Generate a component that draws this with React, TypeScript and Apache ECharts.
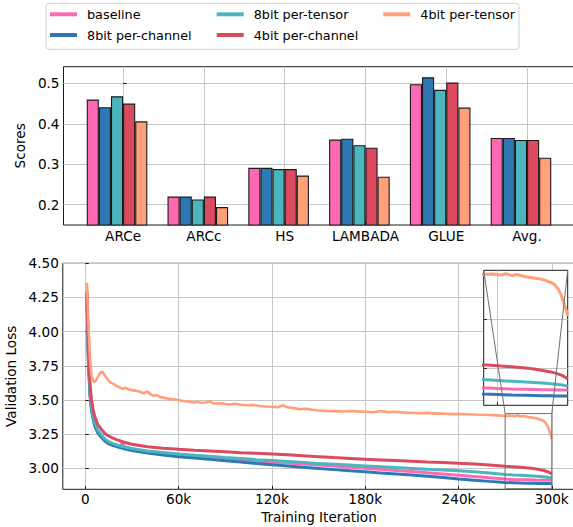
import React, { useEffect, useRef } from 'react';
import * as echarts from 'echarts';

// ---------- data ----------
const seriesNames = ['baseline', '8bit per-channel', '8bit per-tensor', '4bit per-channel', '4bit per-tensor'];
const seriesColors = ['#ff69b4', '#2e79b5', '#4bb6bd', '#db4a5f', '#ffa07a'];

const benchmarks = ['ARCe', 'ARCc', 'HS', 'LAMBADA', 'GLUE', 'Avg.'];
const scoresBaseline = [0.460, 0.220, 0.291, 0.361, 0.498, 0.365];
const scores8bitChannel = [0.441, 0.220, 0.291, 0.363, 0.515, 0.365];
const scores8bitTensor = [0.468, 0.213, 0.288, 0.347, 0.484, 0.360];
const scores4bitChannel = [0.450, 0.220, 0.288, 0.341, 0.502, 0.360];
const scores4bitTensor = [0.406, 0.194, 0.272, 0.269, 0.440, 0.316];
const scoreTicks = [0.2, 0.3, 0.4, 0.5];

const iterTicks = [0, 60000, 120000, 180000, 240000, 300000];
const lossTicks = [3.0, 3.25, 3.5, 3.75, 4.0, 4.25, 4.5];
const insetIterTicks = [275000];
const insetLossTicks = [3.0, 3.2];

// iterations in thousands
const itersSmooth = [1, 2, 3, 4, 5, 6, 8, 10, 12.5, 15, 17.5, 20, 22.5, 24, 25, 30, 35, 40, 50, 60, 70, 80, 90, 100, 110, 120, 130, 140, 150, 160, 170, 180, 190, 200, 210, 220, 230, 240, 250, 260, 270, 275, 280, 285, 288, 291, 294, 296, 298, 300];
const lossBaseline = [4.28, 3.78, 3.54, 3.43, 3.37, 3.32, 3.27, 3.24, 3.21, 3.19, 3.177, 3.168, 3.161, 3.192, 3.153, 3.141, 3.131, 3.122, 3.11, 3.099, 3.09, 3.081, 3.072, 3.063, 3.054, 3.046, 3.039, 3.032, 3.024, 3.016, 3.008, 3.0, 2.992, 2.984, 2.976, 2.967, 2.958, 2.949, 2.94, 2.93, 2.921, 2.918, 2.916, 2.915, 2.914, 2.913, 2.913, 2.912, 2.912, 2.912];
const loss8bitChannel = [4.27, 3.76, 3.53, 3.42, 3.36, 3.31, 3.26, 3.23, 3.2, 3.18, 3.167, 3.158, 3.15, 3.146, 3.143, 3.13, 3.12, 3.111, 3.097, 3.085, 3.075, 3.065, 3.055, 3.045, 3.035, 3.026, 3.017, 3.008, 2.999, 2.99, 2.982, 2.974, 2.966, 2.958, 2.95, 2.941, 2.932, 2.922, 2.913, 2.904, 2.896, 2.894, 2.892, 2.891, 2.89, 2.889, 2.889, 2.888, 2.888, 2.888];
const loss8bitTensor = [4.28, 3.8, 3.56, 3.44, 3.38, 3.33, 3.28, 3.25, 3.215, 3.195, 3.182, 3.172, 3.164, 3.159, 3.157, 3.145, 3.135, 3.127, 3.115, 3.105, 3.096, 3.088, 3.079, 3.071, 3.063, 3.056, 3.049, 3.042, 3.035, 3.029, 3.023, 3.017, 3.011, 3.005, 2.999, 2.993, 2.988, 2.982, 2.975, 2.966, 2.955, 2.951, 2.948, 2.945, 2.943, 2.941, 2.938, 2.936, 2.933, 2.928];
const loss4bitChannel = [4.3, 3.85, 3.62, 3.5, 3.43, 3.38, 3.32, 3.29, 3.255, 3.235, 3.222, 3.21, 3.2, 3.194, 3.19, 3.176, 3.166, 3.158, 3.147, 3.139, 3.132, 3.126, 3.12, 3.114, 3.109, 3.104, 3.098, 3.091, 3.085, 3.078, 3.072, 3.066, 3.061, 3.056, 3.051, 3.046, 3.042, 3.037, 3.031, 3.024, 3.015, 3.011, 3.007, 3.002, 2.998, 2.992, 2.986, 2.98, 2.972, 2.958];

const itersNoisy = [1, 2, 3, 4, 5, 6, 7, 8, 9, 10, 11, 12, 13, 14, 16, 18, 20, 22, 24, 26, 28, 30, 32, 34, 36, 38, 40, 42, 44, 46, 48, 50, 52, 55, 58, 60, 62, 65, 68, 70, 72, 75, 78, 80, 82, 85, 88, 90, 93, 96, 100, 104, 108, 112, 116, 120, 124, 127, 130, 134, 138, 142, 146, 150, 155, 160, 165, 170, 175, 180, 185, 190, 195, 200, 205, 210, 215, 220, 225, 230, 235, 240, 245, 250, 255, 260, 265, 270, 273, 276, 278, 280, 282, 285, 288, 291, 293, 295, 296.5, 297.7, 299, 300];
const loss4bitTensor = [4.357, 4.05, 3.8, 3.68, 3.64, 3.632, 3.645, 3.668, 3.69, 3.703, 3.706, 3.69, 3.672, 3.655, 3.628, 3.617, 3.603, 3.592, 3.582, 3.589, 3.576, 3.572, 3.568, 3.564, 3.556, 3.549, 3.562, 3.54, 3.53, 3.536, 3.521, 3.517, 3.513, 3.506, 3.503, 3.499, 3.494, 3.49, 3.484, 3.481, 3.487, 3.477, 3.483, 3.491, 3.476, 3.473, 3.475, 3.47, 3.467, 3.472, 3.465, 3.461, 3.464, 3.456, 3.452, 3.45, 3.447, 3.461, 3.446, 3.44, 3.432, 3.436, 3.428, 3.423, 3.42, 3.418, 3.415, 3.419, 3.416, 3.414, 3.41, 3.419, 3.411, 3.414, 3.407, 3.405, 3.403, 3.405, 3.4, 3.401, 3.396, 3.397, 3.395, 3.393, 3.392, 3.39, 3.387, 3.383, 3.385, 3.381, 3.386, 3.379, 3.383, 3.374, 3.369, 3.363, 3.355, 3.345, 3.326, 3.298, 3.255, 3.214];

// ---------- styles ----------
const FONT = 'DejaVu Sans';
const GRID_COLOR = '#c6c6c6';
const TICK_FS = 13.6;

export default function App() {
  const ref = useRef<HTMLDivElement>(null);

  useEffect(() => {
    const chart = echarts.init(ref.current!, null, { renderer: 'svg' });

    const barScores = [scoresBaseline, scores8bitChannel, scores8bitTensor, scores4bitChannel, scores4bitTensor];
    const lossSets = [
      { x: itersSmooth, y: lossBaseline },
      { x: itersSmooth, y: loss8bitChannel },
      { x: itersSmooth, y: loss8bitTensor },
      { x: itersSmooth, y: loss4bitChannel },
      { x: itersNoisy, y: loss4bitTensor },
    ];

    const topGrid = { left: 63.5, top: 66.7, width: 511, height: 158.3 };
    const xBarMin = -0.7375;
    const xBarMax = 5.5875;
    const barWidthPx = (0.15 * topGrid.width) / (xBarMax - xBarMin);

    const tickLabel = { fontFamily: FONT, fontSize: TICK_FS, color: '#000' };
    const axisName = { fontFamily: FONT, fontSize: TICK_FS, color: '#000' };

    const lineSeries: any[] = [];
    lossSets.forEach((s, i) => {
      const data = s.x.map((k, j) => [k * 1000, s.y[j]]);
      lineSeries.push({
        type: 'line', name: seriesNames[i], xAxisIndex: 1, yAxisIndex: 1,
        data, showSymbol: false, symbol: 'none', z: 2 + i * 0.01,
        color: seriesColors[i],
        lineStyle: { width: i === 4 ? 2.6 : 3, color: seriesColors[i] },
      });
    });
    lossSets.forEach((s, i) => {
      const data = s.x.map((k, j) => [k * 1000, s.y[j]]);
      lineSeries.push({
        type: 'line', name: seriesNames[i], xAxisIndex: 2, yAxisIndex: 2,
        data, showSymbol: false, symbol: 'none', z: 12 + i * 0.01, clip: true,
        color: seriesColors[i],
        lineStyle: { width: 3, color: seriesColors[i] },
      });
    });

    const barSeries: any[] = barScores.map((vals, i) => ({
      type: 'bar', name: seriesNames[i], xAxisIndex: 0, yAxisIndex: 0,
      data: vals.map((v, j) => [j, v]),
      barWidth: barWidthPx, barGap: '0%',
      itemStyle: { color: seriesColors[i], borderColor: '#1a1a1a', borderWidth: 1.1 },
    }));
    barSeries.push({
      type: 'bar', name: 'pad', xAxisIndex: 0, yAxisIndex: 0, silent: true,
      data: benchmarks.map((_, j) => [j, 0]),
      barWidth: barWidthPx, barGap: '0%',
      itemStyle: { opacity: 0 },
    });

    const legendCommon = {
      orient: 'vertical', top: 6.3, padding: 0, itemGap: 4.7,
      itemWidth: 27, itemHeight: 4, icon: 'rect',
      textStyle: { fontFamily: FONT, fontSize: 12.8, color: '#000', lineHeight: 16, padding: [0, 0, 0, 5] },
      selectedMode: false,
    };

    const gridCommon = { show: true, borderColor: '#1a1a1a', borderWidth: 1, outerBoundsMode: 'none', containLabel: false };

    const option: any = {
      animation: false,
      backgroundColor: '#fff',
      textStyle: { fontFamily: FONT },
      legend: [
        { ...legendCommon, left: 50, data: [seriesNames[0], seriesNames[1]] },
        { ...legendCommon, left: 216.7, data: [seriesNames[2], seriesNames[3]] },
        { ...legendCommon, left: 383.3, data: [seriesNames[4]] },
      ],
      grid: [
        { ...topGrid, ...gridCommon, backgroundColor: 'transparent' },
        { left: 62.8, top: 263.3, width: 512.3, height: 226, ...gridCommon, backgroundColor: 'transparent' },
        { left: 483.7, top: 270.3, width: 84, height: 135, ...gridCommon, backgroundColor: '#fff', z: 10 },
      ],
      xAxis: [
        {
          type: 'value', gridIndex: 0, min: xBarMin, max: xBarMax,
          axisLine: { show: false },
          axisTick: { show: true, inside: true, length: 3.5, lineStyle: { color: '#1a1a1a' }, customValues: benchmarks.map((_, i) => i) },
          axisLabel: { ...tickLabel, margin: 4, customValues: benchmarks.map((_, i) => i), formatter: (v: number) => benchmarks[Math.round(v)] ?? '' },
          splitLine: { show: true, lineStyle: { color: GRID_COLOR, width: 1 } },
        },
        {
          type: 'value', gridIndex: 1, min: -14500, max: 315000,
          axisLine: { show: false },
          axisTick: { show: true, inside: true, length: 3.5, lineStyle: { color: '#1a1a1a' }, customValues: iterTicks },
          axisLabel: { ...tickLabel, margin: 3, customValues: iterTicks, formatter: (v: number) => (v === 0 ? '0' : `${Math.round(v / 1000)}k`) },
          splitLine: { show: true, lineStyle: { color: GRID_COLOR, width: 1 } },
          name: 'Training Iteration', nameLocation: 'middle', nameGap: 20.5, nameTextStyle: axisName,
        },
        {
          type: 'value', gridIndex: 2, min: 270000, max: 300000, z: 11,
          axisLine: { show: false },
          axisTick: { show: true, inside: true, length: 3, lineStyle: { color: '#1a1a1a' }, customValues: insetIterTicks },
          axisLabel: { show: false },
          splitLine: { show: true, lineStyle: { color: GRID_COLOR, width: 1 } },
        },
      ],
      yAxis: [
        {
          type: 'value', gridIndex: 0, min: 0.1497, max: 0.5412,
          axisLine: { show: false },
          axisTick: { show: true, inside: true, length: 3.5, lineStyle: { color: '#1a1a1a' }, customValues: scoreTicks },
          axisLabel: { ...tickLabel, margin: 4, customValues: scoreTicks, formatter: (v: number) => v.toFixed(1) },
          splitLine: { show: true, lineStyle: { color: GRID_COLOR, width: 1 } },
          name: 'Scores', nameLocation: 'middle', nameGap: 22, nameTextStyle: axisName,
        },
        {
          type: 'value', gridIndex: 1, min: 2.846, max: 4.5,
          axisLine: { show: false },
          axisTick: { show: true, inside: true, length: 3.5, lineStyle: { color: '#1a1a1a' }, customValues: lossTicks },
          axisLabel: { ...tickLabel, margin: 4, customValues: lossTicks, formatter: (v: number) => v.toFixed(2) },
          splitLine: { show: true, lineStyle: { color: GRID_COLOR, width: 1 } },
          name: 'Validation Loss', nameLocation: 'middle', nameGap: 36, nameTextStyle: axisName,
        },
        {
          type: 'value', gridIndex: 2, min: 2.85, max: 3.4, z: 11,
          axisLine: { show: false },
          axisTick: { show: true, inside: true, length: 3, lineStyle: { color: '#1a1a1a' }, customValues: insetLossTicks },
          axisLabel: { show: false },
          splitLine: { show: true, lineStyle: { color: GRID_COLOR, width: 1 } },
        },
      ],
      series: [...lineSeries, ...barSeries],
    };

    chart.setOption(option);

    // inset indicator + connectors, positioned via the axes
    const rTL = chart.convertToPixel({ gridIndex: 1 }, [270000, 3.4]) as number[];
    const rBR = chart.convertToPixel({ gridIndex: 1 }, [300000, 2.85]) as number[];
    const iTL = chart.convertToPixel({ gridIndex: 2 }, [270000, 3.4]) as number[];
    const iTR = chart.convertToPixel({ gridIndex: 2 }, [300000, 3.4]) as number[];
    const connStyle = { stroke: '#6f6f6f', lineWidth: 1, fill: null };
    chart.setOption({
      graphic: [
        { type: 'rect', z: 0, shape: { x: 46, y: 3.3, width: 473, height: 46, r: 3 }, style: { fill: '#fff', stroke: '#cfcfcf', lineWidth: 1 } },
        { type: 'rect', z: 5, silent: true, shape: { x: rTL[0], y: rTL[1], width: rBR[0] - rTL[0], height: rBR[1] - rTL[1] }, style: connStyle },
        { type: 'line', z: 20, silent: true, shape: { x1: iTL[0], y1: iTL[1], x2: rTL[0], y2: rTL[1] }, style: connStyle },
        { type: 'line', z: 20, silent: true, shape: { x1: iTR[0], y1: iTR[1], x2: rBR[0], y2: rTL[1] }, style: connStyle },
      ],
    });

    return () => chart.dispose();
  }, []);

  return (
    <div
      ref={ref}
      style={{ position: 'fixed', left: 0, top: 0, width: 573, height: 527, background: '#fff' }}
    />
  );
}
